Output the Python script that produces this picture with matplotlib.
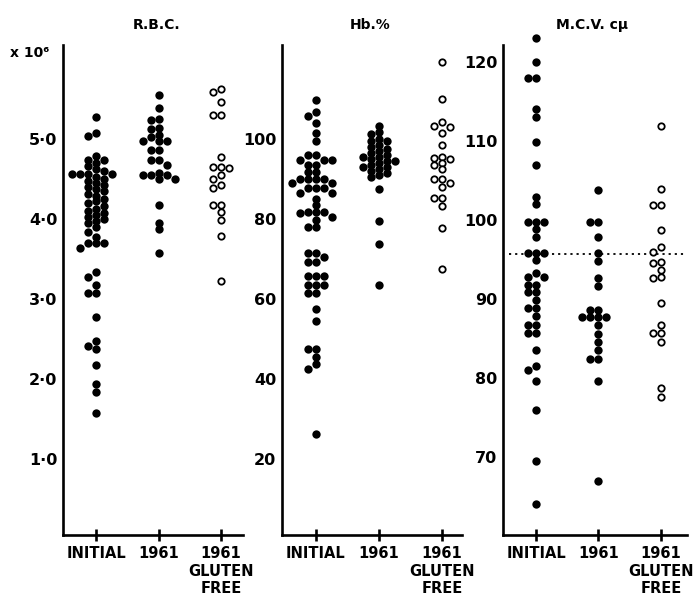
import matplotlib
matplotlib.use('Agg')
import matplotlib.pyplot as plt
import numpy as np

plt.rcParams['font.family'] = ['DejaVu Sans']
plt.rcParams['font.weight'] = 'bold'

groups = ['INITIAL', '1961', '1961\nGLUTEN\nFREE']

# R.B.C. (x 10^6)
rbc_initial = [5.28, 5.07, 5.04, 4.79, 4.74, 4.74,
               4.70, 4.66, 4.62, 4.60, 4.56, 4.56, 4.56, 4.56, 4.52, 4.50,
               4.47, 4.45, 4.42, 4.40, 4.37, 4.35, 4.31, 4.29, 4.25, 4.22,
               4.20, 4.16, 4.13, 4.10, 4.08, 4.05, 4.02, 4.00, 3.97, 3.95,
               3.90, 3.84, 3.78, 3.70, 3.70, 3.70, 3.64, 3.34, 3.28, 3.18,
               3.07, 3.08, 2.78, 2.47, 2.41, 2.37, 2.17, 1.94, 1.84, 1.58]
rbc_1961 = [5.55, 5.39, 5.25, 5.24, 5.14, 5.12, 5.05, 5.03, 4.97, 4.97,
            4.97, 4.86, 4.86, 4.74, 4.74, 4.68, 4.58, 4.55, 4.55, 4.55,
            4.50, 4.50, 4.18, 3.95, 3.87, 3.58]
rbc_gf = [5.59, 5.62, 5.46, 5.30, 5.30, 4.78, 4.65, 4.65, 4.64, 4.55,
          4.50, 4.43, 4.39, 4.18, 4.18, 4.09, 3.99, 3.79, 3.22]

# Hb %
hb_initial = [109.75, 106.7, 105.75, 103.9, 101.6, 99.6, 96.0, 96.0, 94.75,
              94.75, 94.75, 93.4, 93.4, 91.8, 91.8, 89.9, 89.9, 89.9, 89.9,
              89.0, 89.0, 87.7, 87.7, 87.7, 86.5, 86.5, 85.0, 83.5, 81.8,
              81.8, 81.8, 81.5, 80.5, 79.75, 78.1, 78.1, 71.6, 71.6, 70.4,
              69.2, 69.2, 65.7, 65.7, 65.7, 63.5, 63.5, 63.5, 61.4, 61.4,
              57.4, 54.5, 47.4, 47.4, 45.6, 43.75, 42.4, 26.2]
hb_1961 = [103.2, 101.8, 101.2, 100.0, 99.5, 99.5, 98.5, 98.0, 97.5, 97.0,
           96.5, 96.0, 95.5, 95.5, 95.0, 94.5, 94.5, 94.0, 93.5, 93.0, 93.0,
           92.5, 92.0, 91.5, 91.0, 90.5, 87.4, 79.6, 73.7, 63.5]
hb_gf = [119.25, 109.9, 104.3, 103.25, 103.1, 101.4, 98.5, 95.6, 95.3, 94.9,
         93.9, 93.5, 92.4, 89.9, 89.9, 89.1, 88.1, 85.2, 85.2, 83.25, 77.7,
         67.4]

# M.C.V. c mu
mcv_initial = [123.0, 120.0, 118.0, 118.0, 114.1, 113.1, 109.9, 107.0, 102.9,
               102.0, 99.8, 99.8, 99.8, 98.8, 97.8, 95.8, 95.8, 95.8, 94.9,
               92.8, 92.8, 93.3, 91.8, 91.8, 90.9, 90.9, 89.9, 88.8, 88.8,
               87.8, 86.7, 86.7, 85.7, 85.7, 83.5, 81.0, 81.5, 79.6, 75.9,
               69.5, 64.0]
mcv_1961 = [103.8, 99.8, 99.8, 97.8, 95.8, 94.8, 92.6, 91.7, 88.6, 88.6,
            87.7, 87.7, 87.7, 87.7, 86.7, 85.6, 84.6, 83.5, 82.4, 82.4, 79.6,
            67.0]
mcv_gf = [111.9, 103.9, 101.9, 101.9, 98.7, 96.6, 96.0, 94.7, 94.5, 93.7,
          92.8, 92.6, 89.5, 86.7, 85.7, 85.7, 84.6, 78.7, 77.6]
mcv_normal = 95.7

W, H = 694, 596
fig = plt.figure(figsize=(W / 100, H / 100), dpi=100)


def swarm(vals, xpx, ypx, gap=5.5, step=8.0):
    # beeswarm in discrete columns; a column only needs vertical clearance
    order = np.argsort(vals)[::-1]
    cols = {}
    offs = np.zeros(len(vals))
    for i in order:
        y = vals[i] * ypx
        for k in [0, -1, 1, -2, 2, -3, 3]:
            if all(abs(py - y) >= gap for py in cols.get(k, [])):
                break
        cols.setdefault(k, []).append(y)
        offs[i] = k * step / xpx
    return offs


panels = [
    dict(left=63, right=243, xlim=(0.472, 3.35), ylim=(0.05, 6.175),
         ticks=[1, 2, 3, 4, 5], labels=['1·0', '2·0', '3·0', '4·0', '5·0'],
         data=[rbc_initial, rbc_1961, rbc_gf], title='R.B.C.', tx=157, ty=25),
    dict(left=282, right=462, xlim=(0.46, 3.32), ylim=(1.0, 123.5),
         ticks=[20, 40, 60, 80, 100], labels=['20', '40', '60', '80', '100'],
         data=[hb_initial, hb_1961, hb_gf], title='Hb.%', tx=370, ty=25),
    dict(left=503, right=687, xlim=(0.47, 3.42), ylim=(60.13, 122.15),
         ticks=[70, 80, 90, 100, 110, 120],
         labels=['70', '80', '90', '100', '110', '120'],
         data=[mcv_initial, mcv_1961, mcv_gf], title='M.C.V. cμ', tx=592, ty=25),
]

top, bottom = 45, 535
for p in panels:
    ax = fig.add_axes([p['left'] / W, (H - bottom) / H,
                       (p['right'] - p['left']) / W, (bottom - top) / H])
    ax.set_xlim(*p['xlim'])
    ax.set_ylim(*p['ylim'])
    for s in ['top', 'right']:
        ax.spines[s].set_visible(False)
    for s in ['left', 'bottom']:
        ax.spines[s].set_linewidth(1.9)
    xpx = (p['right'] - p['left']) / (p['xlim'][1] - p['xlim'][0])
    ypx = (bottom - top) / (p['ylim'][1] - p['ylim'][0])
    for j, vals in enumerate(p['data']):
        vals = np.array(vals)
        x = j + 1 + swarm(vals, xpx, ypx)
        if j < 2:
            ax.plot(x, vals, 'o', ms=6.0, mfc='black', mec='black', mew=0,
                    clip_on=False, zorder=3)
        else:
            ax.plot(x, vals, 'o', ms=4.6, mfc='white', mec='black', mew=1.3,
                    clip_on=False, zorder=3)
    ax.set_yticks(p['ticks'])
    ax.set_yticklabels(p['labels'], fontsize=11.5, fontweight='bold')
    ax.tick_params(axis='y', length=0, pad=4)
    ax.set_xticks([1, 2, 3])
    ax.set_xticklabels(groups, fontsize=10.5, fontweight='bold', linespacing=1.2)
    ax.tick_params(axis='x', direction='inout', length=8, width=1.9, pad=4)
    fig.text(p['tx'] / W, 1 - p['ty'] / H, p['title'], ha='center', va='center',
             fontsize=10, fontweight='bold')
    if p['title'].startswith('M.C.V'):
        ax.axhline(mcv_normal, xmin=0.03, xmax=1.0, color='black', lw=1.3,
                   ls=(0, (1.2, 2.2)))

fig.text(30 / W, 1 - 53 / H, 'x 10⁶', ha='center', va='center', fontsize=10,
         fontweight='bold')

fig.savefig('out.png', dpi=100)
